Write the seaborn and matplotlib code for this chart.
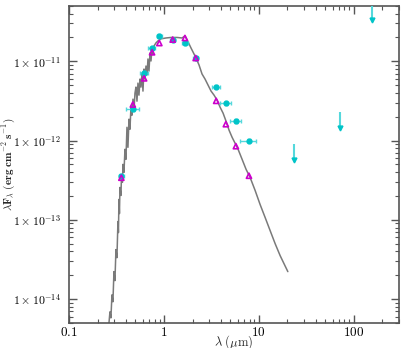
import numpy as np
import pandas as pd
import seaborn as sns
import matplotlib
matplotlib.use('Agg')
import matplotlib.pyplot as plt
from matplotlib.ticker import LogLocator, FuncFormatter, NullFormatter

# model spectrum (wavelength in micron, lambda*F_lambda)
spec_wave = [0.2563, 0.2690, 0.2756, 0.2824, 0.2893, 0.2965, 0.3038, 0.3112, 0.3189, 0.3267,
             0.3307, 0.3348, 0.3389, 0.3430, 0.3514, 0.3557, 0.3645, 0.3690, 0.3781, 0.3875,
             0.3969, 0.4067, 0.4167, 0.4270, 0.4375, 0.4482, 0.4593, 0.4707, 0.4822, 0.4941,
             0.5061, 0.5187, 0.5314, 0.5445, 0.5579, 0.5715, 0.5857, 0.6001, 0.6149, 0.6301,
             0.6455, 0.6614, 0.6776, 0.6944, 0.7115, 0.7290, 0.7469, 0.7651, 0.7843, 0.8233,
             0.8642, 0.9296, 1.050, 1.186, 1.372, 1.549, 1.667, 1.750, 1.837, 1.928,
             2.024, 2.177, 2.342, 2.519, 2.710, 2.915, 3.135, 3.373, 3.628, 3.903,
             4.198, 4.516, 4.858, 5.226, 5.621, 6.046, 6.664, 7.343, 8.092, 9.140,
             10.32, 11.66, 13.16, 14.86, 16.79, 20.24]
spec_flux = [3.53e-15, 6.90e-15, 5.80e-15, 1.13e-14, 9.25e-15, 2.22e-14, 1.71e-14, 4.21e-14, 3.33e-14, 9.52e-14,
             6.91e-14, 1.81e-13, 1.20e-13, 2.56e-13, 2.03e-13, 3.43e-13, 2.97e-13, 5.01e-13, 3.97e-13, 7.76e-13,
             5.80e-13, 1.47e-12, 8.22e-13, 1.86e-12, 1.39e-12, 2.64e-12, 2.09e-12, 3.33e-12, 2.35e-12, 3.97e-12,
             4.73e-12, 3.14e-12, 5.31e-12, 3.74e-12, 5.97e-12, 4.73e-12, 7.11e-12, 4.21e-12, 7.99e-12, 5.97e-12,
             8.72e-12, 6.71e-12, 1.07e-11, 7.54e-12, 1.27e-11, 1.01e-11, 1.43e-11, 1.24e-11, 1.56e-11, 1.71e-11,
             1.81e-11, 1.92e-11, 1.97e-11, 2.00e-11, 2.00e-11, 1.97e-11, 2.09e-11, 1.86e-11, 1.66e-11, 1.47e-11,
             1.31e-11, 1.10e-11, 8.98e-12, 6.91e-12, 5.97e-12, 5.01e-12, 4.21e-12, 3.74e-12, 3.24e-12, 2.64e-12,
             2.22e-12, 1.75e-12, 1.35e-12, 1.10e-12, 9.25e-13, 7.76e-13, 5.80e-13, 4.33e-13, 3.43e-13, 2.35e-13,
             1.56e-13, 1.07e-13, 7.32e-14, 5.01e-14, 3.53e-14, 2.22e-14]

# photometry
phot_wave = [0.355, 0.469, 0.617, 0.748, 0.893, 1.235, 1.662, 2.159, 3.55, 4.49, 5.73, 7.87]
phot_werr = [0.02, 0.07, 0.06, 0.064, 0.05, 0.08, 0.13, 0.13, 0.38, 0.55, 0.76, 1.5]
obs_flux = [3.6e-13, 2.5e-12, 7.1e-12, 1.46e-11, 2.1e-11, 1.88e-11, 1.7e-11, 1.1e-11,
            4.8e-12, 2.94e-12, 1.76e-12, 1.0e-12]
model_flux = [3.4e-13, 2.85e-12, 6.1e-12, 1.3e-11, 1.7e-11, 1.88e-11, 1.97e-11, 1.1e-11,
              3.17e-12, 1.61e-12, 8.5e-13, 3.6e-13]

# upper limits (MIPS)
lim_wave = [23.7, 71.4, 156.0]
lim_flux = [9.0e-13, 2.3e-12, 5.2e-11]

sns.set_theme(style='ticks')
plt.rcParams['mathtext.fontset'] = 'cm'
plt.rcParams['font.family'] = ['DejaVu Serif']

fig = plt.figure(figsize=(4.07, 3.48), dpi=100)
ax = fig.add_axes([0.17, 0.072, 0.81, 0.911])

spec = pd.DataFrame({'wave': spec_wave, 'flux': spec_flux})
sns.lineplot(data=spec, x='wave', y='flux', sort=False, estimator=None,
             color='#7a7a7a', lw=1.1, ax=ax, zorder=2)

cyan = '#00c4c8'
obs_err = [0.05 * f for f in obs_flux]
ax.errorbar(phot_wave, obs_flux, xerr=phot_werr, yerr=obs_err, fmt='o', ms=3.5,
            color=cyan, ecolor='#55d8dc', elinewidth=1.0, capsize=1.5, zorder=3)

lim_tip = [f * 0.63 for f in lim_flux]
ax.vlines(lim_wave, lim_tip, lim_flux, color='#55d8dc', lw=1.5, zorder=3)
ax.plot(lim_wave, lim_tip, 'v', ms=3.5, color=cyan, zorder=3)

phot = pd.DataFrame({'wave': phot_wave, 'flux': model_flux})
sns.scatterplot(data=phot, x='wave', y='flux', marker='^', s=14, facecolor='none',
                edgecolor='#cc00cc', linewidth=1.2, ax=ax, zorder=4)

ax.set_xscale('log')
ax.set_yscale('log')
ax.set_xlim(0.1, 300)
ax.set_ylim(5e-15, 5e-11)

ax.xaxis.set_major_locator(LogLocator(base=10, numticks=10))
ax.xaxis.set_minor_locator(LogLocator(base=10, subs=np.arange(2, 10), numticks=20))
ax.yaxis.set_major_locator(LogLocator(base=10, numticks=10))
ax.yaxis.set_minor_locator(LogLocator(base=10, subs=np.arange(2, 10), numticks=20))

def xfmt(v, pos):
    s = ('%g' % v)
    return '$' + s + '$'

def yfmt(v, pos):
    e = int(round(np.log10(v)))
    return r'$1\times10^{%d}$' % e

ax.xaxis.set_major_formatter(FuncFormatter(xfmt))
ax.yaxis.set_major_formatter(FuncFormatter(yfmt))
ax.xaxis.set_minor_formatter(NullFormatter())
ax.yaxis.set_minor_formatter(NullFormatter())

ax.tick_params(which='both', direction='in', top=True, right=True, colors='#555555',
               labelcolor='black', labelsize=8.5)
ax.tick_params(axis='x', which='major', pad=2, labelsize=9.5)
ax.tick_params(axis='y', which='major', pad=6)
ax.tick_params(which='major', length=6, width=1)
ax.tick_params(which='minor', length=3, width=0.8)
for sp in ax.spines.values():
    sp.set_color('#555555')
    sp.set_linewidth(1.2)

ax.set_xlabel(r'$\lambda\ (\mu\mathrm{m})$', fontsize=9)
ax.set_ylabel(r'$\lambda\mathbf{F}_\lambda\;\mathbf{(erg\;cm^{-2}\;s^{-1})}$', fontsize=8)
ax.xaxis.set_label_coords(0.5, -0.034)
ax.yaxis.set_label_coords(-0.156, 0.5)

fig.savefig('out.png', dpi=100)
